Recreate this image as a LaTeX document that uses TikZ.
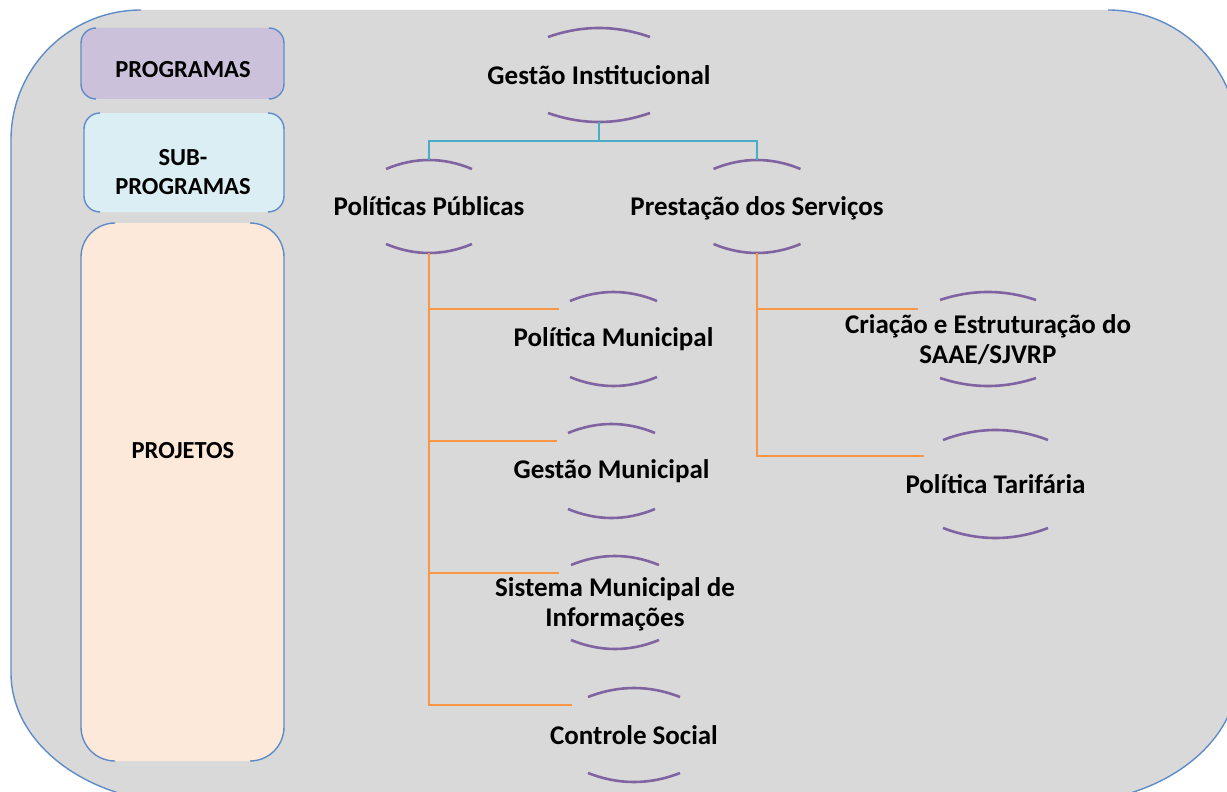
\documentclass[tikz,border=0pt]{standalone}
\usepackage{fontspec}
\setmainfont{Carlito}
\usetikzlibrary{calc}
\definecolor{bggrey}{HTML}{D9D9D9}
\definecolor{bordblue}{RGB}{95,140,200}
\definecolor{progfill}{HTML}{CCC1DA}
\definecolor{subfill}{HTML}{DBEEF4}
\definecolor{projfill}{HTML}{FDE9D9}
\definecolor{arcpurple}{HTML}{8064A2}
\definecolor{linkblue}{HTML}{4BACC6}
\definecolor{linkorange}{HTML}{F79646}
\newcommand\twoarcs[2]{%
  \draw[arcst] ($(#1.north west)+(0,-#2)$)
     .. controls ($(#1.north west)!0.333!(#1.north east)+(0,#2/3)$)
     and ($(#1.north west)!0.667!(#1.north east)+(0,#2/3)$)
     .. ($(#1.north east)+(0,-#2)$);
  \draw[arcst] ($(#1.south west)+(0,#2)$)
     .. controls ($(#1.south west)!0.333!(#1.south east)+(0,-#2/3)$)
     and ($(#1.south west)!0.667!(#1.south east)+(0,-#2/3)$)
     .. ($(#1.south east)+(0,#2)$);}
\newcommand\mysidebox[6]{%
  \fill[#6, rounded corners=#5bp] (#1,-#2) rectangle (#3,-#4);
  \draw[bord] ({#1+#5},-#2) arc[start angle=90,end angle=180,radius=#5] -- (#1,{-#4+#5}) arc[start angle=180,end angle=270,radius=#5];
  \draw[bord] ({#3-#5},-#4) arc[start angle=270,end angle=360,radius=#5] -- (#3,{-#2-#5}) arc[start angle=0,end angle=90,radius=#5];}
\begin{document}
\begin{tikzpicture}[x=1bp,y=1bp,
  bord/.style={draw=bordblue, line width=1.4bp},
  arcst/.style={draw=arcpurple, line width=2.6bp},
  bline/.style={draw=linkblue, line width=2.7bp},
  oline/.style={draw=linkorange, line width=2.9bp},
  arcframe/.style n args={2}{rectangle, minimum width=#1bp, minimum height=#2bp, inner sep=0pt, outer sep=0pt},
  txt/.style={font=\fontsize{27bp}{30bp}\selectfont\bfseries, text=black, align=center, inner sep=0pt},
  btxt/.style={font=\fontsize{24.5bp}{29bp}\selectfont\bfseries, text=black, align=center, inner sep=0pt}]
\useasboundingbox (0,0) rectangle (1227,-792);
\clip (0,0) rectangle (1227,-792);
\fill[white] (0,0) rectangle (1227,-792);
% outer panel
\fill[bggrey] (11,-140) arc[start angle=180,end angle=90,radius=130] -- (1108,-10)
   arc[start angle=90,end angle=0,radius=130] -- (1238,-673)
   arc[start angle=0,end angle=-90,x radius=175,y radius=130] -- (186,-803)
   arc[start angle=270,end angle=180,x radius=175,y radius=130] -- cycle;
\draw[bord] (141,-10) arc[start angle=90,end angle=180,radius=130] -- (11,-673)
   arc[start angle=180,end angle=270,x radius=175,y radius=130];
\draw[bord] (1108,-10) arc[start angle=90,end angle=0,radius=130];
\draw[bord] (1238,-673) arc[start angle=0,end angle=-90,x radius=175,y radius=130];
% left legend boxes
\mysidebox{81}{28}{284}{99}{15}{progfill}
\mysidebox{84}{113}{284}{212}{16}{subfill}
\mysidebox{81}{223}{284}{761}{34}{projfill}
\node[btxt] (prog) at (183,-70) {PROGRAMAS};
\node[btxt] (subp) at (183,-172) {SUB-\\PROGRAMAS};
\node[btxt] (proj) at (183,-451) {PROJETOS};
% tree nodes
\node[arcframe={102}{94}, label={[txt]center:Gestão Institucional}] (gi) at (599,-75) {};
\node[arcframe={86}{93}, label={[txt]center:Políticas Públicas}] (pp) at (429,-206.5) {};
\node[arcframe={87}{93}, label={[txt,yshift=-1.5bp]center:Prestação dos Serviços}] (ps) at (757,-206.5) {};
\node[arcframe={87}{94}, label={[txt]center:Política Municipal}] (pm) at (613.5,-339) {};
\node[arcframe={87}{94}, label={[txt]center:Gestão Municipal}] (gm) at (611.5,-471) {};
\node[arcframe={88}{93}, label={[txt,yshift=-1.5bp]center:Sistema Municipal de\\Informações}] (sm) at (615,-602.5) {};
\node[arcframe={92}{94}, label={[txt]center:Controle Social}] (cs) at (634,-735) {};
\node[arcframe={96}{94}, label={[txt,yshift=-1bp]center:Criação e Estruturação do\\SAAE/SJVRP}] (ce) at (988,-339) {};
\node[arcframe={105}{108}, label={[txt]center:Política Tarifária}] (pt) at (995.5,-484) {};
\twoarcs{gi}{9}
\twoarcs{pp}{9}
\twoarcs{ps}{9}
\twoarcs{pm}{9}
\twoarcs{gm}{9}
\twoarcs{sm}{9}
\twoarcs{cs}{9}
\twoarcs{ce}{8}
\twoarcs{pt}{10}
% connectors
\coordinate (bus) at ($(gi.south)!0.5!(pp.north)$);
\draw[bline] (gi.south) -- (gi.south |- bus);
\draw[bline] (pp.north) |- (bus) -| (ps.north);
\draw[oline] (pp.south) |- ($(pm.north west)+(-11,-17)$);
\draw[oline] (pp.south) |- ($(gm.north west)+(-11,-17)$);
\draw[oline] (pp.south) |- ($(sm.north west)+(-12,-17)$);
\draw[oline] (pp.south) |- ($(cs.north west)+(-16,-17)$);
\draw[oline] (ps.south) |- ($(ce.north west)+(-22,-17)$);
\draw[oline] (ps.south) |- ($(pt.north west)+(-19,-26)$);
\end{tikzpicture}
\end{document}
